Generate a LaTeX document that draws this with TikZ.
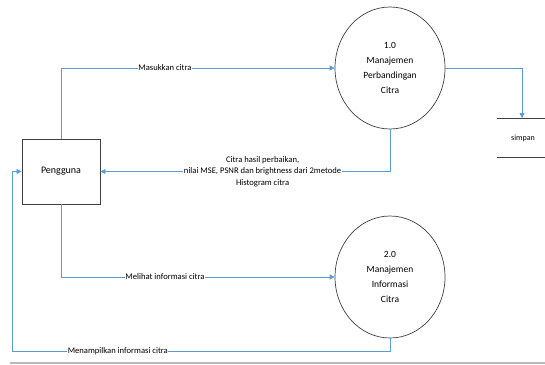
\documentclass[tikz,border=0pt]{standalone}
\usepackage{fontspec}
\setmainfont{Carlito}
\definecolor{flowblue}{RGB}{91,155,213}
\definecolor{outline}{RGB}{64,64,64}
\usetikzlibrary{shapes.geometric}
\usetikzlibrary{arrows.meta}
\usetikzlibrary{calc}

\begin{document}
\begin{tikzpicture}[x=1pt, y=-1pt, every node/.style={font=\fontsize{9.5}{15}\selectfont},
	flow/.style={draw=flowblue, line width=0.8pt, -{Triangle[width=5pt,length=5pt]}},
	flowtext/.style={fill=white, inner sep=0.5pt, align=center, font=\fontsize{8.6}{11.5}\selectfont},
	proses/.style={ellipse, draw=outline, line width=0.7pt, minimum width=110pt, minimum height=122pt, align=center}]
\useasboundingbox (0,0) rectangle (545,364);
\coordinate (1) at (61, 171.5);
\coordinate (2) at (390, 68);
\coordinate (3) at (390, 277);
\coordinate (simpanL) at (497, 118);
\coordinate (simpanR) at (545, 118);
\coordinate (simpanTop) at (522, 118);
\coordinate (simpanBL) at (497, 157);
\coordinate (simpanBR) at (545, 157);
\coordinate (bawah) at (12, 351);

\node(pengguna)[draw=outline, line width=0.9pt, minimum width=78pt, minimum height=65pt, font=\fontsize{10}{12}\selectfont] at (1) {Pengguna};
\node(proses1)[proses] at (2) {1.0\\Manajemen\\Perbandingan\\Citra};
\node(proses2)[proses] at (3) {2.0\\Manajemen\\Informasi\\Citra};

% data store
\draw[outline, line width=0.8pt] (simpanL) -- (simpanR);
\draw[outline, line width=0.8pt] (simpanBL) -- (simpanBR);
\node(simpan)[font=\fontsize{8}{9}\selectfont] at (523, 138) {simpan};

\draw[flow] (pengguna.north) |- node[flowtext, pos=0.69] {Masukkan citra} (proses1.west);
\draw[flow] (proses1.east) -| (simpanTop);
\draw[flow] (proses1.south) |- node[flowtext, pos=0.72] {Citra hasil perbaikan,\\nilai MSE, PSNR dan brightness dari 2metode\\Histogram citra} (pengguna.east);
\draw[flow] (pengguna.south) |- node[flowtext, pos=0.69] {Melihat informasi citra} (proses2.west);
\draw[flow] (proses2.south) |- node[flowtext, pos=0.86] {Menampilkan informasi citra} (bawah) |- (pengguna.west);

\draw[gray!55, line width=1.5pt] (10, 363) -- (545, 363);
\end{tikzpicture}
\end{document}
